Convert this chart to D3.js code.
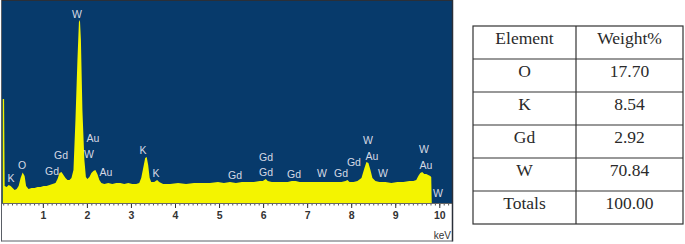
<!DOCTYPE html>
<html>
<head>
<meta charset="utf-8">
<script src="https://cdn.jsdelivr.net/npm/d3@7"></script>
<style>
  html, body { margin: 0; padding: 0; background: #ffffff; }
  svg { display: block; }
</style>
</head>
<body>
<svg id="chart" width="685" height="244"></svg>
<script>
// ---- spectrum data (energy in keV, counts) ----
const energyKeV = [0.09,0.12,0.133,0.179,0.224,0.269,0.314,0.36,0.405,0.45,0.495,0.541,0.586,0.62,0.676,0.744,0.812,0.88,0.948,1.016,1.084,1.152,1.219,1.287,1.333,1.378,1.423,1.468,1.514,1.559,1.604,1.649,1.695,1.74,1.785,1.819,1.842,1.864,1.898,1.943,1.977,2.011,2.057,2.102,2.147,2.192,2.238,2.283,2.328,2.396,2.486,2.577,2.667,2.758,2.848,2.939,3.029,3.12,3.188,3.233,3.278,3.323,3.357,3.391,3.425,3.459,3.527,3.595,3.64,3.731,3.889,4.07,4.251,4.432,4.613,4.794,4.975,5.111,5.247,5.382,5.518,5.654,5.789,5.925,5.993,6.061,6.106,6.197,6.378,6.559,6.649,6.74,6.83,6.966,7.102,7.237,7.373,7.509,7.645,7.78,7.871,7.916,7.961,8.052,8.142,8.233,8.301,8.346,8.391,8.437,8.482,8.55,8.64,8.776,8.912,9.048,9.183,9.319,9.41,9.477,9.523,9.568,9.613,9.658,9.704,9.749,9.794,9.817,9.828];
const counts    = [515,515,80,75,85,80,70,60,65,80,120,148,130,80,65,70,70,75,75,80,80,85,90,95,115,145,150,135,120,110,110,120,160,410,710,900,910,810,460,210,125,115,125,145,155,160,140,110,95,90,95,90,95,95,90,95,90,90,95,120,170,220,225,185,120,100,100,110,100,90,90,95,90,95,95,95,100,95,100,95,100,100,100,105,105,115,105,100,100,100,105,105,100,100,100,100,100,100,100,100,105,110,100,100,105,120,170,200,195,160,120,105,100,100,95,100,100,105,105,110,130,145,150,140,140,135,130,125,0];

// ---- peak labels ----
const peakLabels = ["W","Au","W","Gd","O","Gd","K","K","Au","K","Gd","Gd","Gd","Gd","W","Gd","Gd","W","Au","W","W","Au","W"];
const peakKeV    = [1.775,2.138,2.048,1.412,0.527,1.208,0.277,3.273,2.433,3.569,5.362,6.066,6.066,6.701,7.337,7.768,8.063,8.381,8.472,8.722,9.653,9.698,9.97];
const peakCounts = [940,320,240,235,185,155,120,260,150,145,135,225,150,140,145,145,200,310,230,145,265,185,45];

// ---- axis ticks ----
const majorTicks = [1,2,3,4,5,6,7,8,9,10];
const minorTicks = d3.range(1, 103).map(i => i / 10);
const axisUnit = "keV";

// ---- table ----
const tableHeader = ["Element", "Weight%"];
const elements = ["O", "K", "Gd", "W", "Totals"];
const weights  = ["17.70", "8.54", "2.92", "70.84", "100.00"];

const svg = d3.select("#chart");

// Panel geometry
const plotLeft = 2, plotRight = 452, plotTop = 1, plotBottom = 203, panelBottom = 241;

const x = d3.scaleLinear().domain([0, 10]).range([-1.2, 439.3]);
const y = d3.scaleLinear().domain([0, 1010]).range([202, 0]);

// blue background
svg.append("rect")
  .attr("x", plotLeft).attr("y", plotTop)
  .attr("width", plotRight - plotLeft).attr("height", plotBottom - plotTop)
  .attr("fill", "#073a6b");

svg.append("clipPath").attr("id", "clip")
  .append("rect").attr("x", plotLeft).attr("y", plotTop)
  .attr("width", plotRight - plotLeft).attr("height", plotBottom - plotTop);

const spectrum = energyKeV.map((e, i) => ({ e, c: counts[i] }));
const area = d3.area()
  .x(d => x(d.e))
  .y0(plotBottom)
  .y1(d => y(d.c));

svg.append("path")
  .datum(spectrum)
  .attr("clip-path", "url(#clip)")
  .attr("fill", "#f4f400")
  .attr("d", area);

// peak labels
svg.append("g")
  .selectAll("text")
  .data(peakLabels)
  .join("text")
  .attr("x", (d, i) => x(peakKeV[i]))
  .attr("y", (d, i) => y(peakCounts[i]))
  .attr("dy", "0.36em")
  .attr("text-anchor", "middle")
  .attr("font-family", "Liberation Sans, Arial, sans-serif")
  .attr("font-size", "10.5px")
  .attr("fill", "#d6d9e4")
  .text(d => d);

// axis
const axisG = svg.append("g").attr("transform", `translate(0,${plotBottom})`);
axisG.call(d3.axisBottom(x).tickValues(minorTicks).tickSize(2.5).tickFormat(""))
  .call(g => g.select(".domain").remove())
  .call(g => g.selectAll("line").attr("stroke", "#555"));
const majorG = svg.append("g").attr("transform", `translate(0,${plotBottom})`);
majorG.call(d3.axisBottom(x).tickValues(majorTicks).tickSize(5).tickPadding(4).tickFormat(d3.format("d")))
  .call(g => g.select(".domain").remove())
  .call(g => g.selectAll("line").attr("stroke", "#333"))
  .call(g => g.selectAll("text")
    .attr("font-family", "Liberation Sans, Arial, sans-serif")
    .attr("font-size", "10.5px")
    .attr("font-weight", "bold")
    .attr("fill", "#333"));

svg.append("line")
  .attr("x1", plotLeft).attr("x2", plotRight)
  .attr("y1", plotBottom + 0.5).attr("y2", plotBottom + 0.5)
  .attr("stroke", "#666").attr("stroke-width", 1);

svg.append("text")
  .attr("x", plotRight - 1).attr("y", 239)
  .attr("text-anchor", "end")
  .attr("font-family", "Liberation Sans, Arial, sans-serif")
  .attr("font-size", "10px")
  .attr("fill", "#333")
  .text(axisUnit);

// panel borders
svg.append("line").attr("x1", plotLeft - 0.5).attr("x2", plotRight + 0.5)
  .attr("y1", 0.5).attr("y2", 0.5).attr("stroke", "#2a2f38").attr("stroke-width", 1);
svg.append("line").attr("x1", plotLeft - 0.5).attr("x2", plotLeft - 0.5)
  .attr("y1", 0).attr("y2", panelBottom + 0.5).attr("stroke", "#5a5f66").attr("stroke-width", 1);
svg.append("line").attr("x1", plotRight + 0.5).attr("x2", plotRight + 0.5)
  .attr("y1", 0).attr("y2", panelBottom + 0.5).attr("stroke", "#2a2f38").attr("stroke-width", 1.5);
svg.append("line").attr("x1", plotLeft - 0.5).attr("x2", plotRight + 0.5)
  .attr("y1", panelBottom).attr("y2", panelBottom).attr("stroke", "#5a5f66").attr("stroke-width", 1);

// table
const tLeft = 473, tMid = 576, tRight = 683, tTop = 26, tBottom = 224;
const rows = [tableHeader].concat(elements.map((e, i) => [e, weights[i]]));
const rowY = d3.scaleLinear().domain([0, rows.length]).range([tTop, tBottom]);
const colX = [(tLeft + tMid) / 2, (tMid + tRight) / 2];

const tg = svg.append("g");
tg.append("rect").attr("x", tLeft).attr("y", tTop)
  .attr("width", tRight - tLeft).attr("height", tBottom - tTop)
  .attr("fill", "none").attr("stroke", "#333").attr("stroke-width", 1.2);
tg.append("line").attr("x1", tMid).attr("x2", tMid).attr("y1", tTop).attr("y2", tBottom)
  .attr("stroke", "#333").attr("stroke-width", 1.2);
tg.selectAll("line.row").data(d3.range(1, rows.length)).join("line")
  .attr("class", "row")
  .attr("x1", tLeft).attr("x2", tRight)
  .attr("y1", d => rowY(d)).attr("y2", d => rowY(d))
  .attr("stroke", "#333").attr("stroke-width", 1.2);

rows.forEach((r, i) => {
  r.forEach((cell, j) => {
    tg.append("text")
      .attr("x", colX[j]).attr("y", rowY(i) + 18)
      .attr("text-anchor", "middle")
      .attr("font-family", "Liberation Serif, 'Times New Roman', serif")
      .attr("font-size", "17.5px")
      .attr("fill", "#2a2a2a")
      .text(cell);
  });
});
</script>
</body>
</html>
